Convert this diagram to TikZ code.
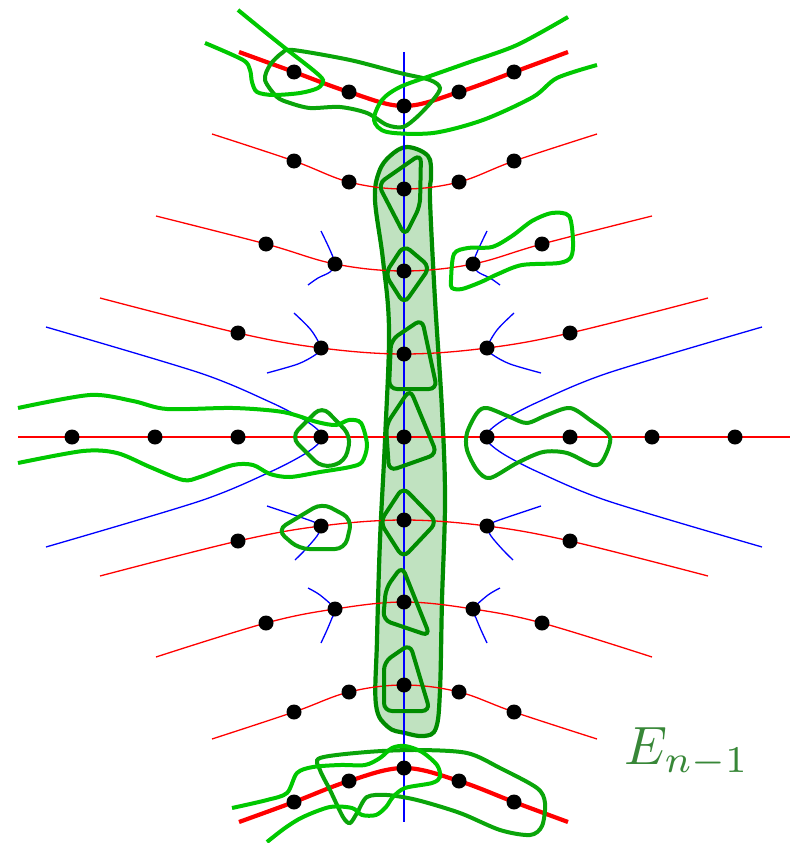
\documentclass[tikz,border=0pt]{standalone}
\usepackage{xcolor}
\usepackage{tikz}

\definecolor{lightgrn}{RGB}{0,200,0}
\definecolor{midgrn}{RGB}{10,165,10}
\definecolor{darkgrn}{RGB}{0,140,0}
\definecolor{bandfill}{RGB}{192,226,192}
\definecolor{labelgrn}{RGB}{56,135,56}

\begin{document}
\begin{tikzpicture}[
    x=1pt, y=-1pt,
    dot/.style={circle, fill=black, inner sep=0pt, minimum size=15pt},
    geo/.style={draw=red, line width=1.3pt},
    boldgeo/.style={draw=red, line width=4.2pt},
    perp/.style={draw=blue, line width=1.3pt},
    band/.style={draw=darkgrn, fill=bandfill, line width=4.2pt},
    cell/.style={draw=darkgrn, line width=4pt, rounded corners=8pt},
    ring/.style={draw=midgrn, line width=4pt},
    wave/.style={draw=lightgrn, line width=4pt}
]
\useasboundingbox (0,0) rectangle (797,843);

% the shaded band E_{n-1}
\path[band] plot[smooth cycle, tension=0.6] coordinates {(407,147) (428,156) (431,176) (430,200) (435,300) (442,410) (445,500) (442,600) (440,690) (436,728) (424,736) (405,733) (388,727) (376,705) (377,640) (380,540) (385,440) (389,330) (383,260) (375,200) (379,172) (390,156)};

% red curves
\path[boldgeo] plot[smooth, tension=0.6] coordinates {(239,52) (294,72) (349,92) (404,106) (459,92) (514,72) (568,52)};
\path[geo] plot[smooth, tension=0.6] coordinates {(212,134) (294,161) (349,182) (404,189) (459,182) (514,161) (597,134)};
\path[geo] plot[smooth, tension=0.6] coordinates {(156,216) (266,244) (335,264) (404,271) (473,264) (542,244) (652,216)};
\path[geo] plot[smooth, tension=0.6] coordinates {(100,298) (238,333) (321,348) (404,354) (487,348) (570,333) (708,298)};
\path[geo] plot coordinates {(18,437) (790,437)};
\path[geo] plot[smooth, tension=0.6] coordinates {(100,576) (238,541) (321,526) (404,520) (487,526) (570,541) (708,576)};
\path[geo] plot[smooth, tension=0.6] coordinates {(156,657) (266,623) (335,609) (404,602) (473,609) (542,623) (652,657)};
\path[geo] plot[smooth, tension=0.6] coordinates {(212,739) (294,712) (349,692) (404,685) (459,692) (514,712) (597,739)};
\path[boldgeo] plot[smooth, tension=0.6] coordinates {(239,822) (294,802) (349,781) (404,768) (459,781) (514,802) (568,822)};

% blue curves
\path[perp] (404,52) -- (404,822);
\path[perp] plot[smooth, tension=0.5] coordinates {(46,327) (200,373) (270,402) (303,419) (318,430) (321,437) (318,444) (303,455) (270,472) (200,501) (46,547)};
\path[perp] plot[smooth, tension=0.5] coordinates {(762,327) (608,373) (538,402) (505,419) (490,430) (487,437) (490,444) (505,455) (538,472) (608,501) (762,547)};
\path[perp] plot[smooth, tension=0.5] coordinates {(321,231) (330,250) (335,264) (330,272) (318,278) (308,285)};
\path[perp] plot[smooth, tension=0.5] coordinates {(487,231) (478,250) (473,264) (478,272) (490,278) (500,285)};
\path[perp] plot[smooth, tension=0.5] coordinates {(294,313) (311,330) (321,348) (315,355) (298,364) (267,373)};
\path[perp] plot[smooth, tension=0.5] coordinates {(514,313) (497,330) (487,348) (493,355) (510,364) (541,373)};
\path[perp] plot[smooth, tension=0.5] coordinates {(267,506) (297,516) (314,522) (321,526) (317,536) (305,550) (295,560)};
\path[perp] plot[smooth, tension=0.5] coordinates {(541,506) (511,516) (494,522) (487,526) (491,536) (503,550) (513,560)};
\path[perp] plot[smooth, tension=0.5] coordinates {(308,588) (320,595) (335,609) (332,618) (327,630) (321,643)};
\path[perp] plot[smooth, tension=0.5] coordinates {(500,588) (488,595) (473,609) (476,618) (481,630) (487,643)};

% cells inside the band
\path[cell] (421,154) -- (420,206) -- (405,236) -- (378,184) -- cycle;
\path[cell] (404,245) -- (430,267) -- (404,304) -- (385,274) -- cycle;
\path[cell] (422,319) -- (437,389) -- (389,389) -- (391,340) -- cycle;
\path[cell] (410,389) -- (437,454) -- (389,471) -- (386,425) -- cycle;
\path[cell] (403,487) -- (437,522) -- (403,558) -- (380,522) -- cycle;
\path[cell] (402,566) -- (430,636) -- (383,620) -- (386,588) -- cycle;
\path[cell] (410,644) -- (430,711) -- (384,711) -- (384,662) -- cycle;

% rings
\path[ring] plot[smooth cycle, tension=0.5] coordinates {(293,50) (350,60) (400,73) (430,80) (440,88) (433,100) (417,117) (403,127) (387,125) (367,113) (340,107) (310,108) (290,103) (277,97) (265,80) (270,65) (282,53)};
\path[ring] plot[smooth cycle, tension=0.5] coordinates {(320,758) (367,752) (417,750) (467,753) (500,768) (537,788) (545,803) (542,826) (530,835) (500,830) (460,813) (417,800) (387,795) (367,797) (357,813) (350,823) (343,817) (330,790) (320,770)};
\path[ring, rounded corners=10pt] (322,406) -- (351,436) -- (345,462) -- (322,468) -- (291,437) -- cycle;
\path[ring, rounded corners=10pt] (322,503) -- (352,519) -- (345,549) -- (299,549) -- (277,530) -- cycle;
\path[ring] plot[smooth cycle, tension=0.5] coordinates {(467,433) (477,413) (487,408) (510,417) (527,423) (547,415) (570,408) (590,420) (610,437) (603,460) (593,465) (567,453) (543,452) (517,463) (490,478) (477,470) (467,450)};

% waves
\path[wave] plot[smooth, tension=0.5] coordinates {(238,10) (265,32) (290,52) (313,70) (323,80) (318,88) (300,93) (273,95) (257,92) (252,82) (250,70) (243,60) (205,43)};
\path[wave] plot[smooth, tension=0.5] coordinates {(568,17) (517,45) (467,63) (433,75) (400,87) (382,100) (374,120) (387,132) (433,133) (483,120) (533,97) (557,78) (597,65)};
\path[wave] plot[smooth, tension=0.5] coordinates {(232,808) (267,800) (287,793) (297,773) (313,767) (340,765) (365,765) (380,758) (392,748) (405,746) (422,752) (437,765) (440,777) (432,783) (405,788) (393,797) (386,807) (376,815) (362,815) (352,808) (330,807) (303,817) (285,828) (267,842)};
\path[wave] plot[smooth, tension=0.5] coordinates {(18,408) (90,395) (133,401) (167,409) (233,408) (283,412) (317,422) (336,425) (349,420) (361,423) (367,445) (362,462) (350,467) (320,472) (290,477) (270,474) (253,465) (233,465) (200,477) (183,480) (150,467) (117,453) (83,451) (18,463)};
\path[wave] plot[smooth cycle, tension=0.5] coordinates {(451,280) (454,254) (468,248) (492,247) (512,236) (532,221) (552,213) (569,216) (573,241) (571,257) (559,263) (522,265) (498,274) (481,282) (462,289) (452,288)};

% dots
\foreach \x/\y [count=\i] in {294/72, 349/92, 404/106, 459/92, 514/72,
    294/161, 349/182, 404/189, 459/182, 514/161,
    266/244, 335/264, 404/271, 473/264, 542/244,
    238/333, 321/348, 404/354, 487/348, 570/333,
    72/437, 155/437, 238/437, 321/437, 404/437, 487/437, 570/437, 652/437, 735/437,
    238/541, 321/526, 404/520, 487/526, 570/541,
    266/623, 335/609, 404/602, 473/609, 542/623,
    294/712, 349/692, 404/685, 459/692, 514/712,
    294/802, 349/781, 404/768, 459/781, 514/802}
  \node[dot] (p\i) at (\x,\y) {};

\node[text=labelgrn, scale=5.4] (lbl) at (687,752) {$E_{n-1}$};
\end{tikzpicture}
\end{document}
